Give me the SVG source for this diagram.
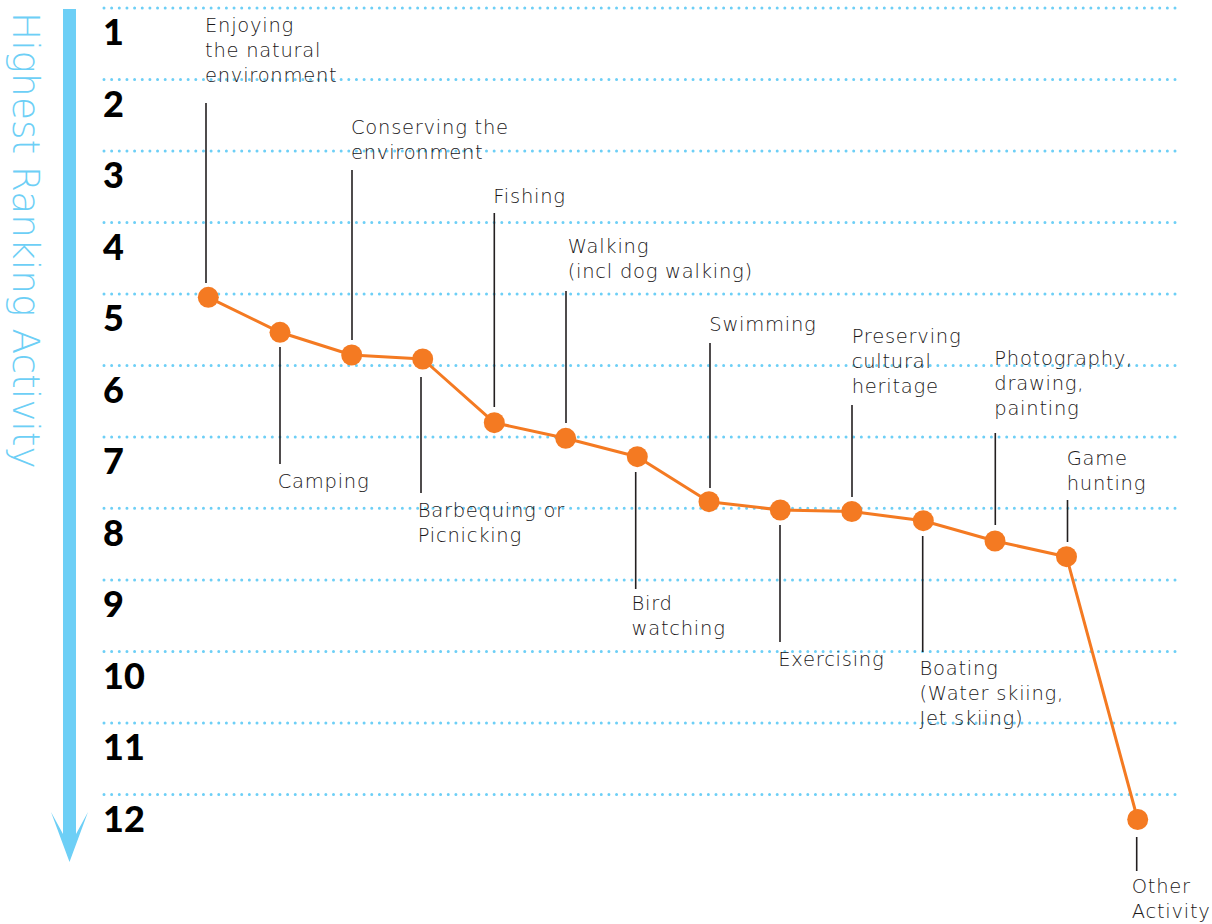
<svg xmlns="http://www.w3.org/2000/svg" width="1212" height="924" viewBox="0 0 1212 924">
<style>
.grid{stroke:#6dcff6;stroke-width:3;stroke-linecap:round;stroke-dasharray:0 7.65;fill:none}
.num{font-family:Lato,"Liberation Sans",sans-serif;font-weight:900;font-size:36px;fill:#000}
.lbl{font-family:"DejaVu Sans",Lato,sans-serif;font-weight:200;font-size:19.5px;letter-spacing:0.75px;fill:#1a1718}
.lead{stroke:#231f20;stroke-width:1.6;fill:none}
.dot{fill:#f47a22}
.trend{stroke:#f47a22;stroke-width:3;fill:none;stroke-linejoin:round}
.axis{font-family:"DejaVu Sans",Lato,sans-serif;font-weight:200;font-size:37.5px;fill:#6dcff6}
</style>
<rect width="1212" height="924" fill="#fff"/>
<g id="grid">
<line class="grid" x1="104" y1="8" x2="1176" y2="8"/>
<line class="grid" x1="104" y1="79.5" x2="1176" y2="79.5"/>
<line class="grid" x1="104" y1="151" x2="1176" y2="151"/>
<line class="grid" x1="104" y1="222.4" x2="1176" y2="222.4"/>
<line class="grid" x1="104" y1="294" x2="1176" y2="294"/>
<line class="grid" x1="104" y1="365.4" x2="1176" y2="365.4"/>
<line class="grid" x1="104" y1="437" x2="1176" y2="437"/>
<line class="grid" x1="104" y1="508.3" x2="1176" y2="508.3"/>
<line class="grid" x1="104" y1="580" x2="1176" y2="580"/>
<line class="grid" x1="104" y1="651.4" x2="1176" y2="651.4"/>
<line class="grid" x1="104" y1="723" x2="1176" y2="723"/>
<line class="grid" x1="104" y1="794.4" x2="1176" y2="794.4"/>
</g>
<g id="axis">
<polygon fill="#6dcff6" points="63,9 76,9 76,834 88,812 69.5,862 51,812 63,834"/>
<text class="axis" transform="translate(13,12) rotate(90)">Highest Ranking Activity</text>
</g>
<g id="ranks">
<text class="num" x="103" y="45">1</text>
<text class="num" x="103" y="116.5">2</text>
<text class="num" x="103" y="188">3</text>
<text class="num" x="103" y="259.5">4</text>
<text class="num" x="103" y="331">5</text>
<text class="num" x="103" y="402.5">6</text>
<text class="num" x="103" y="474">7</text>
<text class="num" x="103" y="545.5">8</text>
<text class="num" x="103" y="617">9</text>
<text class="num" x="103" y="688.5">10</text>
<text class="num" x="103" y="760">11</text>
<text class="num" x="103" y="831.5">12</text>
</g>
<g id="connectors">
<polyline class="trend" points="208.3,297.3 280,332.3 351.7,355 422.7,359 494.3,422.7 565.7,438.3 637.3,456.7 709,501.7 780.3,510 851.8,511.5 923.3,520.7 995,541 1066.5,556.7 1137.7,819.5"/>
<line class="lead" x1="206" y1="103" x2="206" y2="283"/>
<line class="lead" x1="280" y1="347" x2="280" y2="464"/>
<line class="lead" x1="352" y1="170" x2="352" y2="340"/>
<line class="lead" x1="421" y1="377" x2="421" y2="493"/>
<line class="lead" x1="494.3" y1="213" x2="494.3" y2="407"/>
<line class="lead" x1="566" y1="291" x2="566" y2="423"/>
<line class="lead" x1="635.7" y1="472" x2="635.7" y2="589"/>
<line class="lead" x1="710" y1="343" x2="710" y2="488"/>
<line class="lead" x1="780" y1="525" x2="780" y2="642"/>
<line class="lead" x1="852" y1="405" x2="852" y2="497"/>
<line class="lead" x1="922.7" y1="536" x2="922.7" y2="652"/>
<line class="lead" x1="995.3" y1="433" x2="995.3" y2="525"/>
<line class="lead" x1="1067.5" y1="500" x2="1067.5" y2="542"/>
<line class="lead" x1="1136.7" y1="837" x2="1136.7" y2="871"/>
</g>
<g id="n1"><circle class="dot" cx="208.3" cy="297.3" r="10.5"/><text class="lbl" x="205" y="32">Enjoying</text><text class="lbl" x="205" y="57">the natural</text><text class="lbl" x="205" y="82">environment</text></g>
<g id="n2"><circle class="dot" cx="280" cy="332.3" r="10.5"/><text class="lbl" x="277.7" y="488">Camping</text></g>
<g id="n3"><circle class="dot" cx="351.7" cy="355" r="10.5"/><text class="lbl" x="351" y="133.5">Conserving the</text><text class="lbl" x="351" y="158.5">environment</text></g>
<g id="n4"><circle class="dot" cx="422.7" cy="359" r="10.5"/><text class="lbl" x="417.7" y="516.7">Barbequing or</text><text class="lbl" x="417.7" y="541.7">Picnicking</text></g>
<g id="n5"><circle class="dot" cx="494.3" cy="422.7" r="10.5"/><text class="lbl" x="493.3" y="203">Fishing</text></g>
<g id="n6"><circle class="dot" cx="565.7" cy="438.3" r="10.5"/><text class="lbl" x="567.7" y="253">Walking</text><text class="lbl" x="567.7" y="278">(incl dog walking)</text></g>
<g id="n7"><circle class="dot" cx="637.3" cy="456.7" r="10.5"/><text class="lbl" x="631.5" y="610">Bird</text><text class="lbl" x="631.5" y="635">watching</text></g>
<g id="n8"><circle class="dot" cx="709" cy="501.7" r="10.5"/><text class="lbl" x="709.3" y="331">Swimming</text></g>
<g id="n9"><circle class="dot" cx="780.3" cy="510" r="10.5"/><text class="lbl" x="778.3" y="665.7">Exercising</text></g>
<g id="n10"><circle class="dot" cx="851.8" cy="511.5" r="10.5"/><text class="lbl" x="851.7" y="343.3">Preserving</text><text class="lbl" x="851.7" y="368.3">cultural</text><text class="lbl" x="851.7" y="393.3">heritage</text></g>
<g id="n11"><circle class="dot" cx="923.3" cy="520.7" r="10.5"/><text class="lbl" x="919.5" y="675">Boating</text><text class="lbl" x="919.5" y="700">(Water skiing,</text><text class="lbl" x="919.5" y="725">Jet skiing)</text></g>
<g id="n12"><circle class="dot" cx="995" cy="541" r="10.5"/><text class="lbl" x="994.3" y="365">Photography,</text><text class="lbl" x="994.3" y="390">drawing,</text><text class="lbl" x="994.3" y="415">painting</text></g>
<g id="n13"><circle class="dot" cx="1066.5" cy="556.7" r="10.5"/><text class="lbl" x="1066.7" y="465">Game</text><text class="lbl" x="1066.7" y="490">hunting</text></g>
<g id="n14"><circle class="dot" cx="1137.7" cy="819.5" r="10.5"/><text class="lbl" x="1131.7" y="893.3">Other</text><text class="lbl" x="1131.7" y="918">Activity</text></g>
</svg>
